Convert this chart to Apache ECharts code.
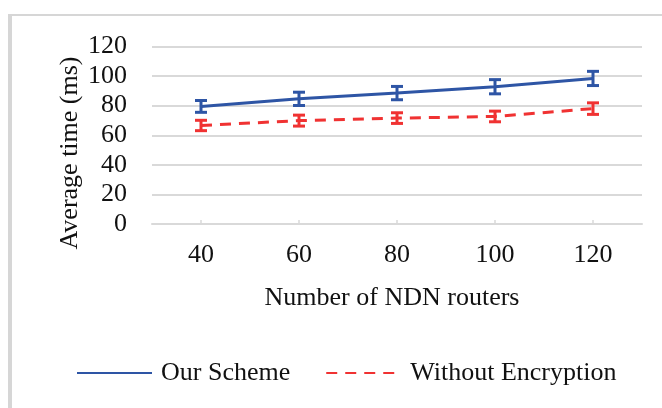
<!DOCTYPE html>
<html>
<head>
<meta charset="utf-8">
<script src="https://cdn.jsdelivr.net/npm/echarts@6/dist/echarts.min.js"></script>
<style>
  html, body { margin: 0; padding: 0; background: #fff; }
  #chart { width: 662px; height: 408px; }
</style>
</head>
<body>
<div id="chart"></div>
<script>
// Router counts on the x axis
const routers = ['40', '60', '80', '100', '120'];
// Mean delay (ms) and half-width of the error bars
const oursMean = [79.5, 84.6, 88.5, 92.8, 98.4];
const oursErr = [4.0, 4.5, 4.5, 4.8, 4.8];
const plainMean = [66.6, 69.9, 71.6, 72.7, 78.0];
const plainErr = [3.5, 3.7, 3.6, 3.6, 3.9];
const yTicks = [0, 20, 40, 60, 80, 100, 120];

const BLUE = '#2e55a5';
const RED = '#f03232';
const FONT = 'Liberation Serif';
const FS = 26;

function errorBars(means, errs) {
  return means.map((m, i) => [i, m - errs[i], m + errs[i]]);
}

function renderErr(color) {
  return function (params, api) {
    const x = api.value(0);
    const lo = api.coord([x, api.value(1)]);
    const hi = api.coord([x, api.value(2)]);
    const half = 6;
    const style = { stroke: color, lineWidth: 3 };
    return {
      type: 'group',
      children: [
        { type: 'line', shape: { x1: lo[0], y1: lo[1], x2: hi[0], y2: hi[1] }, style },
        { type: 'line', shape: { x1: lo[0] - half, y1: lo[1], x2: lo[0] + half, y2: lo[1] }, style },
        { type: 'line', shape: { x1: hi[0] - half, y1: hi[1], x2: hi[0] + half, y2: hi[1] }, style }
      ]
    };
  };
}

const chart = echarts.init(document.getElementById('chart'));
chart.setOption({
  animation: false,
  backgroundColor: '#fff',
  textStyle: { fontFamily: FONT },
  grid: { left: 152, right: 20, top: 46.5, bottom: 184 },
  xAxis: {
    type: 'category',
    data: routers,
    boundaryGap: true,
    axisLine: { lineStyle: { color: '#d9d9d9', width: 2 } },
    axisTick: { show: true, inside: true, length: 4, alignWithLabel: true, lineStyle: { color: '#d9d9d9', width: 1.5 } },
    axisLabel: { color: '#111', fontSize: FS, fontFamily: FONT, margin: 18 }
  },
  yAxis: {
    type: 'value',
    min: yTicks[0],
    max: yTicks[yTicks.length - 1],
    interval: 20,
    axisLine: { show: false },
    axisTick: { show: false },
    axisLabel: { color: '#111', fontSize: FS, fontFamily: FONT, margin: 25 },
    splitLine: { lineStyle: { color: '#d9d9d9', width: 2 } }
  },
  legend: {
    left: 71,
    top: 355,
    itemWidth: 75,
    itemHeight: 26,
    itemGap: 35,
    itemStyle: { opacity: 0 },
    textStyle: { color: '#111', fontSize: FS, fontFamily: FONT, padding: [0, 0, 0, 4] },
    data: ['Our Scheme', 'Without Encryption']
  },
  graphic: [
    { type: 'line', shape: { x1: 10, y1: 15, x2: 10, y2: 408 }, style: { stroke: '#d6d6d6', lineWidth: 4 } },
    { type: 'line', shape: { x1: 8, y1: 15, x2: 662, y2: 15 }, style: { stroke: '#d6d6d6', lineWidth: 2 } },
    {
      type: 'text', x: 70, y: 153, rotation: Math.PI / 2,
      style: { text: 'Average time (ms)', fill: '#111', font: FS + 'px "Liberation Serif"', align: 'center', verticalAlign: 'middle' }
    },
    {
      type: 'text', x: 392, y: 298,
      style: { text: 'Number of NDN routers', fill: '#111', font: FS + 'px "Liberation Serif"', align: 'center', verticalAlign: 'middle' }
    }
  ],
  series: [
    {
      name: 'Our Scheme',
      type: 'line',
      data: oursMean,
      symbol: 'none',
      color: BLUE,
      lineStyle: { color: BLUE, width: 3 },
      z: 3
    },
    {
      name: 'Without Encryption',
      type: 'line',
      data: plainMean,
      symbol: 'none',
      color: RED,
      lineStyle: { color: RED, width: 3, type: [11, 8] },
      z: 3
    },
    {
      type: 'custom',
      data: errorBars(oursMean, oursErr),
      renderItem: renderErr(BLUE),
      z: 4
    },
    {
      type: 'custom',
      data: errorBars(plainMean, plainErr),
      renderItem: renderErr(RED),
      z: 4
    }
  ]
});
</script>
</body>
</html>
